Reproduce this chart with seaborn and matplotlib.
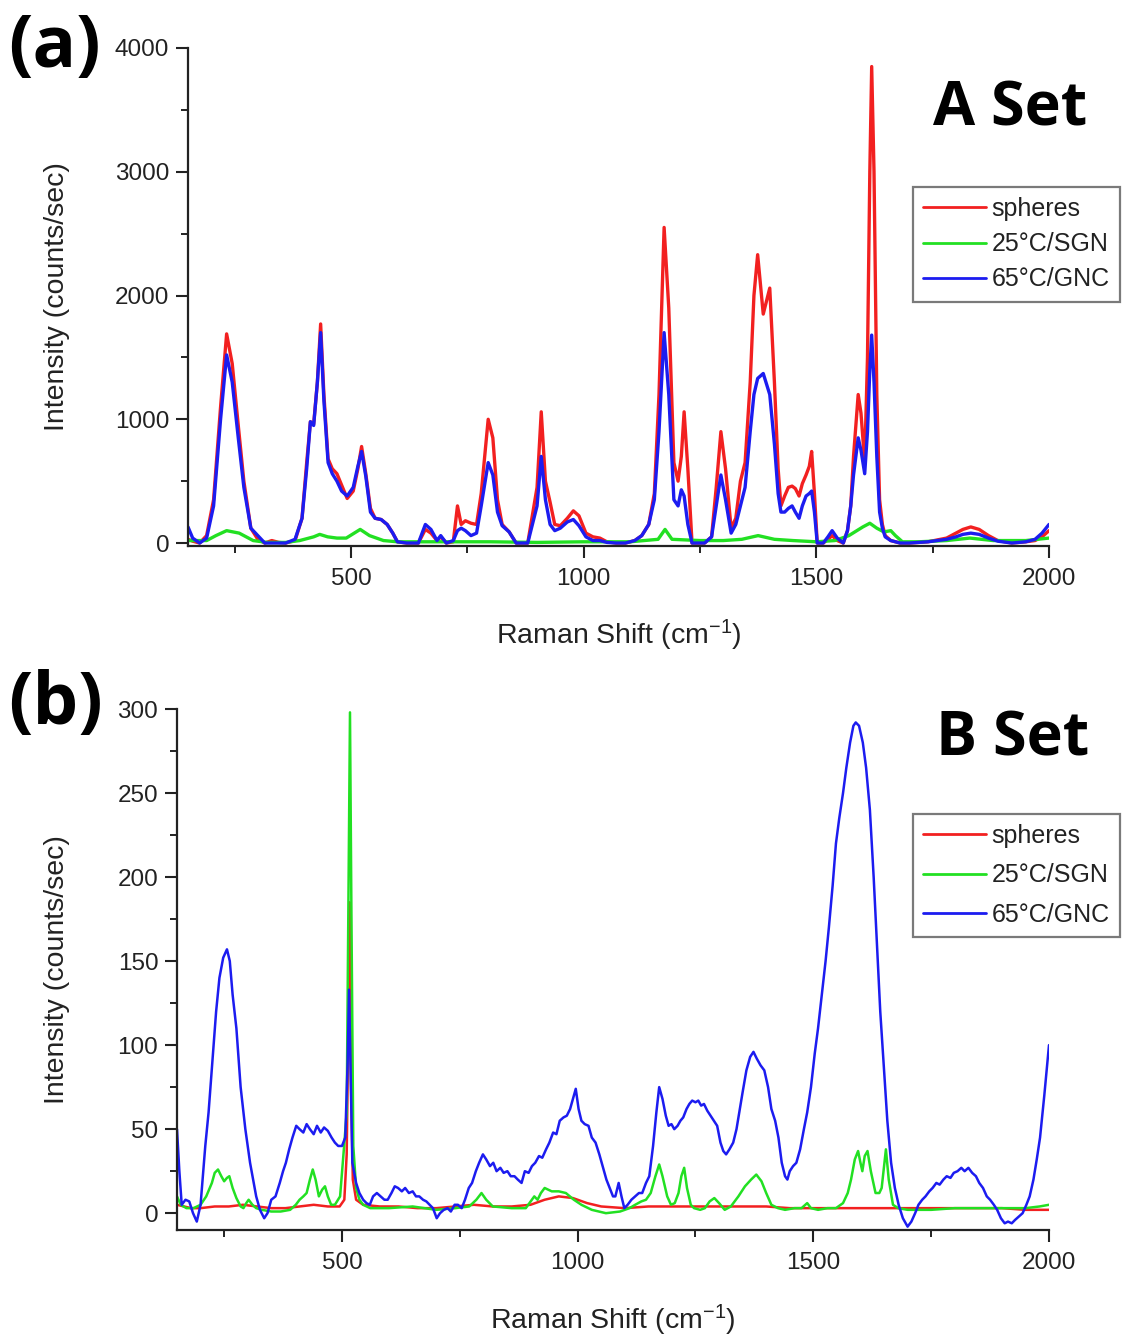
import numpy as np
import pandas as pd
import matplotlib
matplotlib.use("Agg")
import matplotlib.pyplot as plt
from matplotlib.ticker import MultipleLocator
import seaborn as sns

# ---------------- data: panel (a) ----------------
a_red_x = [150, 160, 175, 190, 205, 220, 233, 245, 258, 270, 285, 300, 315, 330, 345, 360, 380, 395, 405, 413,
           420, 428, 435, 442, 451, 460, 470, 480, 492, 505, 515, 523, 532, 542, 552, 565, 578, 590, 600, 620,
           645, 660, 672, 685, 693, 705, 720, 729, 737, 746, 758, 770, 780, 795, 805, 815, 825, 840, 855, 880,
           900, 909, 918, 928, 938, 950, 965, 978, 990, 1005, 1020, 1035, 1050, 1070, 1090, 1110, 1125, 1140,
           1152, 1162, 1173, 1183, 1194, 1203, 1210, 1216, 1224, 1233, 1245, 1260, 1275, 1285, 1295, 1305, 1317,
           1327, 1337, 1347, 1358, 1366, 1374, 1386, 1400, 1410, 1418, 1424, 1432, 1440, 1448, 1455, 1463, 1470,
           1478, 1485, 1490, 1496, 1502, 1515, 1525, 1534, 1545, 1558, 1567, 1574, 1580, 1590, 1596, 1604, 1610,
           1615, 1619, 1624, 1630, 1636, 1642, 1648, 1660, 1680, 1700, 1740, 1780, 1800, 1815, 1832, 1850, 1870,
           1890, 1920, 1950, 1970, 1985, 2000]
a_red_y = [30, 15, 0, 60, 350, 1100, 1690, 1450, 950, 500, 120, 30, 0, 20, 5, 0, 20, 200, 650, 980,
           960, 1300, 1770, 1200, 680, 600, 560, 470, 360, 420, 600, 780, 560, 280, 200, 190, 150, 80, 10, 0,
           0, 110, 80, 20, 50, 0, 10, 300, 150, 180, 160, 150, 400, 1000, 850, 350, 150, 90, 0, 0,
           450, 1060, 500, 330, 150, 140, 200, 260, 220, 80, 50, 40, 10, 0, 0, 20, 60, 150,
           400, 1200, 2550, 1900, 650, 500, 700, 1060, 600, 0, 0, 0, 50, 450, 900, 600, 120,
           200, 500, 650, 1300, 2000, 2330, 1850, 2060, 1300, 600, 300, 380, 450, 460, 440, 380, 480,
           550, 620, 740, 400, 0, 0, 30, 60, 20, 0, 100, 300, 700, 1200, 1050, 650, 1500,
           3000, 3850, 3000, 1200, 350, 150, 60, 20, 0, 0, 10, 40, 80, 110, 130, 110, 60,
           20, 0, 10, 20, 50, 100]

a_blue_x = [150, 160, 175, 190, 205, 220, 233, 245, 258, 270, 285, 300, 315, 330, 360, 380, 395, 405, 413,
            420, 428, 435, 442, 451, 460, 470, 480, 492, 505, 515, 523, 532, 542, 552, 565, 578, 590, 600, 620,
            645, 660, 672, 685, 693, 705, 720, 729, 737, 746, 758, 770, 780, 795, 805, 815, 825, 840, 855, 880,
            900, 909, 918, 928, 938, 950, 965, 978, 990, 1005, 1020, 1035, 1050, 1070, 1090, 1110, 1125, 1140,
            1152, 1162, 1173, 1183, 1194, 1203, 1210, 1216, 1224, 1233, 1260, 1275, 1285, 1295, 1305, 1317,
            1327, 1337, 1347, 1358, 1366, 1374, 1386, 1400, 1410, 1418, 1424, 1432, 1440, 1448, 1455, 1463, 1470,
            1478, 1485, 1490, 1496, 1502, 1515, 1525, 1534, 1545, 1558, 1567, 1574, 1580, 1590, 1596, 1604, 1610,
            1615, 1619, 1624, 1630, 1636, 1642, 1648, 1660, 1680, 1700, 1740, 1780, 1800, 1815, 1832, 1850, 1870,
            1890, 1920, 1950, 1970, 1985, 2000]
a_blue_y = [130, 40, 0, 40, 300, 1000, 1520, 1300, 850, 450, 120, 60, 0, 0, 0, 30, 200, 600, 980,
            950, 1300, 1700, 1150, 650, 560, 500, 420, 380, 450, 620, 740, 540, 250, 200, 190, 150, 80, 10, 0,
            0, 150, 110, 20, 60, 0, 20, 100, 120, 100, 60, 80, 300, 650, 550, 250, 140, 90, 0, 0,
            300, 700, 350, 150, 100, 120, 170, 190, 140, 50, 20, 20, 5, 0, 0, 20, 60, 150,
            350, 900, 1700, 1200, 350, 300, 430, 380, 150, 0, 0, 50, 300, 550, 350, 80,
            150, 300, 450, 900, 1200, 1330, 1370, 1200, 800, 400, 250, 250, 280, 300, 250, 200, 300,
            380, 400, 420, 250, 0, 0, 50, 100, 40, 0, 100, 300, 550, 850, 750, 560, 900,
            1400, 1680, 1300, 700, 250, 120, 50, 20, 0, 0, 10, 30, 50, 70, 80, 70, 40,
            15, 0, 10, 30, 80, 150]

a_green_x = [150, 190, 210, 233, 260, 290, 320, 360, 390, 420, 433, 450, 470, 490, 520, 540, 570, 600, 700,
             800, 900, 1000, 1100, 1160, 1175, 1190, 1250, 1300, 1340, 1375, 1410, 1450, 1500, 1540, 1570,
             1600, 1615, 1630, 1645, 1660, 1670, 1685, 1720, 1780, 1830, 1880, 1950, 2000]
a_green_y = [20, 20, 60, 100, 80, 20, 5, 5, 20, 50, 70, 50, 40, 40, 110, 60, 20, 10, 10,
             10, 5, 10, 10, 30, 110, 30, 20, 20, 30, 60, 30, 20, 10, 20, 60,
             130, 160, 120, 90, 100, 60, 10, 10, 20, 40, 20, 20, 40]

# ---------------- data: panel (b) ----------------
b_red_x = [150, 165, 180, 200, 230, 260, 290, 320, 350, 380, 410, 440, 470, 495, 505, 510, 514, 516, 519, 523,
           530, 545, 580, 620, 660, 700, 740, 780, 820, 860, 900, 930, 960, 990, 1020, 1050, 1100, 1150, 1200,
           1250, 1300, 1350, 1400, 1450, 1500, 1550, 1600, 1650, 1700, 1750, 1800, 1850, 1900, 1950, 2000]
b_red_y = [5, 4, 3, 3, 4, 4, 5, 4, 3, 3, 4, 5, 4, 4, 8, 35, 120, 185, 80, 20,
           8, 5, 4, 4, 3, 3, 4, 5, 4, 4, 5, 8, 10, 9, 6, 4, 3, 4, 4,
           4, 4, 4, 4, 3, 3, 3, 3, 3, 3, 3, 3, 3, 3, 2, 2]

b_green_x = [150, 158, 170, 185, 200, 212, 224, 230, 237, 244, 250, 256, 261, 268, 276, 285, 291, 297, 302, 310,
             318, 330, 350, 370, 390, 402, 410, 418, 425, 432, 438, 444, 451, 458, 464, 470, 477, 485, 496, 504,
             510, 514, 517, 520, 524, 530, 537, 545, 560, 600, 650, 700, 740, 770, 785, 796, 806, 820, 860, 890,
             908, 915, 922, 930, 945, 960, 975, 992, 1008, 1030, 1060, 1090, 1110, 1122, 1135, 1145, 1155, 1165,
             1173, 1180, 1190, 1198, 1206, 1214, 1220, 1226, 1232, 1240, 1247, 1260, 1270, 1280, 1290, 1300, 1312,
             1325, 1341, 1355, 1368, 1379, 1390, 1400, 1411, 1425, 1440, 1460, 1475, 1487, 1495, 1510, 1530, 1548,
             1563, 1573, 1580, 1588, 1595, 1600, 1604, 1609, 1615, 1622, 1632, 1640, 1645, 1650, 1654, 1660, 1669,
             1680, 1700, 1750, 1800, 1850, 1900, 1950, 1980, 2000]
b_green_y = [10, 5, 3, 3, 5, 10, 18, 24, 26, 22, 19, 21, 22, 15, 9, 4, 3, 6, 8, 5,
             3, 2, 1, 1, 2, 5, 8, 10, 12, 20, 26, 20, 10, 14, 16, 10, 5, 5, 10, 38,
             60, 200, 298, 180, 40, 15, 8, 5, 3, 3, 4, 2, 3, 4, 8, 12, 8, 4, 3, 3,
             10, 8, 12, 15, 13, 13, 12, 8, 5, 2, 0, 1, 3, 5, 7, 8, 12, 22,
             29, 22, 10, 5, 6, 12, 22, 27, 15, 5, 3, 2, 3, 7, 9, 6, 2,
             4, 10, 16, 20, 23, 19, 12, 5, 3, 2, 3, 3, 6, 3, 2, 3, 3,
             6, 12, 20, 32, 37, 30, 25, 34, 37, 25, 12, 12, 15, 28, 38, 20, 5,
             3, 2, 2, 3, 3, 3, 3, 4, 5]

b_blue_x = [150, 155, 160, 168, 176, 184, 192, 200, 210, 217, 225, 233, 240, 248, 256, 262, 268, 276, 285, 295,
            305, 318, 326, 335, 342, 350, 359, 368, 375, 381, 388, 395, 403, 410, 418, 425, 432, 440, 447, 455,
            462, 470, 478, 485, 492, 500, 507, 512, 515, 518, 522, 530, 537, 545, 552, 559, 566, 574, 582, 590,
            597, 605, 612, 619, 627, 634, 642, 650, 657, 664, 672, 679, 686, 693, 701, 708, 716, 724, 731, 739,
            746, 754, 761, 769, 776, 784, 791, 799, 806, 814, 821, 828, 836, 843, 851, 858, 866, 873, 881, 888,
            896, 903, 910, 918, 925, 933, 940, 948, 955, 962, 970, 977, 984, 990, 996, 1002, 1008, 1015, 1023,
            1030, 1038, 1046, 1053, 1061, 1068, 1075, 1080, 1087, 1093, 1099, 1106, 1114, 1122, 1130, 1137, 1145,
            1152, 1160, 1167, 1173, 1180, 1187, 1193, 1199, 1205, 1212, 1218, 1224, 1231, 1237, 1243, 1250, 1256,
            1262, 1268, 1275, 1282, 1289, 1296, 1303, 1309, 1315, 1322, 1330, 1337, 1344, 1350, 1358, 1366, 1373,
            1380, 1388, 1396, 1404, 1411, 1419, 1426, 1433, 1440, 1445, 1450, 1457, 1464, 1472, 1480, 1487, 1495,
            1503, 1510, 1518, 1526, 1533, 1541, 1548, 1555, 1563, 1570, 1578, 1585, 1590, 1597, 1605, 1612, 1620,
            1628, 1635, 1642, 1650, 1657, 1665, 1673, 1681, 1690, 1700, 1708, 1716, 1723, 1731, 1738, 1746, 1753,
            1761, 1768, 1776, 1783, 1791, 1798, 1806, 1814, 1821, 1829, 1837, 1845, 1852, 1860, 1868, 1875, 1883,
            1890, 1898, 1906, 1913, 1921, 1928, 1936, 1944, 1952, 1959, 1967, 1974, 1981, 1990, 2000]
b_blue_y = [50, 25, 5, 8, 7, 0, -5, 5, 40, 60, 90, 120, 140, 152, 157, 150, 130, 110, 75, 50,
            30, 10, 2, -3, 0, 8, 10, 18, 25, 30, 38, 45, 52, 50, 48, 53, 50, 47, 52, 48,
            51, 49, 45, 42, 40, 40, 45, 90, 133, 90, 30, 18, 12, 8, 6, 5, 10, 12, 10, 8,
            8, 12, 16, 15, 13, 15, 12, 13, 10, 10, 8, 7, 5, 3, -3, 0, 2, 3, 1, 5,
            5, 3, 8, 15, 18, 25, 30, 35, 32, 28, 30, 25, 27, 24, 25, 22, 22, 20, 18, 25,
            24, 28, 30, 34, 33, 38, 42, 48, 47, 55, 57, 58, 62, 68, 74, 62, 55, 53, 52,
            45, 42, 35, 28, 20, 15, 10, 10, 18, 10, 3, 5, 8, 10, 12, 12, 18,
            22, 40, 60, 75, 68, 58, 52, 53, 50, 52, 55, 57, 62, 65, 67, 66, 67,
            64, 65, 61, 58, 55, 52, 42, 37, 35, 38, 42, 50, 62, 72, 85, 93, 96,
            92, 88, 85, 75, 62, 55, 45, 30, 22, 20, 25, 28, 30, 38, 50, 60, 75,
            95, 110, 130, 150, 170, 195, 220, 235, 250, 265, 280, 290, 292, 290, 280, 265, 240,
            200, 160, 120, 85, 55, 30, 15, 5, -3, -8, -5, 0, 5, 8, 10, 13, 15,
            18, 17, 20, 22, 21, 24, 25, 27, 25, 27, 24, 22, 18, 15, 10, 8, 5,
            2, -3, -6, -5, -6, -4, -2, 0, 5, 10, 20, 32, 45, 70, 100]

series_names = ["spheres", "25°C/SGN", "65°C/GNC"]
series_colors = ["#f22020", "#22e022", "#1c1cf0"]
panel_tags = ["(a)", "(b)"]
panel_titles = ["A Set", "B Set"]
x_label = "Raman Shift (cm$^{-1}$)"
y_label = "Intensity (counts/sec)"


def make_df(xs_list, ys_list):
    frames = []
    for name, xs, ys in zip(series_names, xs_list, ys_list):
        frames.append(pd.DataFrame({"x": xs, "y": ys, "series": name}))
    return pd.concat(frames, ignore_index=True)


df_a = make_df([a_red_x, a_green_x, a_blue_x], [a_red_y, a_green_y, a_blue_y])
df_b = make_df([b_red_x, b_green_x, b_blue_x], [b_red_y, b_green_y, b_blue_y])

# ---------------- styling ----------------
sns.set_style("ticks")
plt.rcParams["font.family"] = ["Liberation Sans", "DejaVu Sans"]
plt.rcParams["mathtext.fontset"] = "custom"
plt.rcParams["mathtext.rm"] = "Liberation Sans"
plt.rcParams["mathtext.it"] = "Liberation Sans:italic"
plt.rcParams["mathtext.bf"] = "Liberation Sans:bold"

W, H = 1122, 1336
fig = plt.figure(figsize=(W / 100, H / 100), dpi=100)
TXT = "#222222"


def fx(px):
    return px / W


def fy(py):
    return 1 - py / H


def setup(ax, df, lw, ylim, ymajor, yminor, leg_anchor, leg_spacing, ylab_x, xlab_y):
    sns.lineplot(data=df, x="x", y="y", hue="series", hue_order=series_names,
                 palette=series_colors, estimator=None, linewidth=lw, ax=ax)
    ax.set_xlim(150, 2000)
    ax.set_ylim(*ylim)
    ax.xaxis.set_major_locator(MultipleLocator(500))
    ax.xaxis.set_minor_locator(MultipleLocator(250))
    ax.yaxis.set_major_locator(MultipleLocator(ymajor))
    ax.yaxis.set_minor_locator(MultipleLocator(yminor))
    for s in ["top", "right"]:
        ax.spines[s].set_visible(False)
    for s in ["left", "bottom"]:
        ax.spines[s].set_linewidth(1.6)
        ax.spines[s].set_color(TXT)
    ax.tick_params(which="major", direction="out", length=8.5, width=1.5, colors=TXT,
                   labelsize=17.5)
    ax.tick_params(axis="x", which="major", pad=7)
    ax.tick_params(axis="y", which="major", pad=5)
    ax.tick_params(which="minor", direction="out", length=5, width=1.4, colors=TXT)
    ax.set_xlabel(x_label, fontsize=20.5, color=TXT)
    ax.set_ylabel(y_label, fontsize=20.5, color=TXT)
    ax.xaxis.set_label_coords(0.5, xlab_y)
    ax.yaxis.set_label_coords(ylab_x, 0.5)
    sns.move_legend(ax, loc="upper left", bbox_to_anchor=leg_anchor,
                    bbox_transform=fig.transFigure, title=None, frameon=True,
                    fancybox=False, borderaxespad=0, borderpad=0.4,
                    handlelength=2.5, handletextpad=0.24,
                    labelspacing=leg_spacing, fontsize=18, framealpha=1)
    leg = ax.get_legend()
    leg.get_frame().set_edgecolor("#7a7a7a")
    leg.get_frame().set_linewidth(1.6)
    for t in leg.get_texts():
        t.set_color(TXT)
    for h in leg.get_lines():
        h.set_linewidth(2.0)


ax_a = fig.add_axes([fx(188), fy(546), fx(1049 - 188), (546 - 48) / H])
setup(ax_a, df_a, 2.4, (-24, 4000), 1000, 500, (fx(913), fy(187)), 0.45, -0.137, -0.145)

ax_b = fig.add_axes([fx(177), fy(1230), fx(1049 - 177), (1230 - 709) / H])
setup(ax_b, df_b, 1.8, (-10, 300), 50, 25, (fx(913), fy(814)), 0.62, -0.123, -0.140)

big = dict(family=["Open Sans", "DejaVu Sans"], weight="bold", color="black")
fig.text(fx(8), fy(67), panel_tags[0], fontsize=52, ha="left", va="baseline", **big)
fig.text(fx(8), fy(724), panel_tags[1], fontsize=52, ha="left", va="baseline", **big)
fig.text(fx(933), fy(126), panel_titles[0], fontsize=44, ha="left", va="baseline", **big)
fig.text(fx(936), fy(756), panel_titles[1], fontsize=44, ha="left", va="baseline", **big)

fig.savefig("out.png", dpi=100)
